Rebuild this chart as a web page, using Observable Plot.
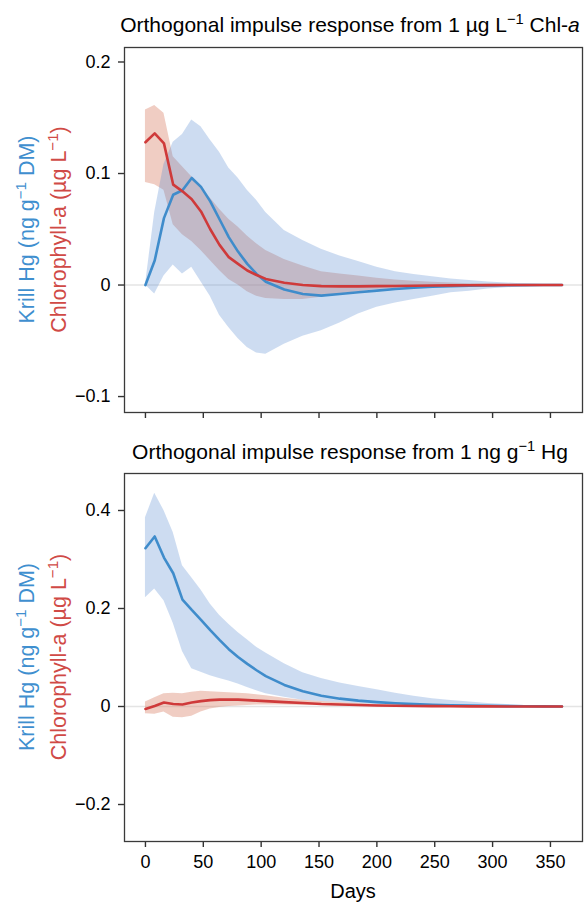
<!DOCTYPE html>
<html>
<head>
<meta charset="utf-8">
<script src="https://cdn.jsdelivr.net/npm/d3@7"></script>
<script src="https://cdn.jsdelivr.net/npm/@observablehq/plot@0.6"></script>
<style>
  body { margin: 0; background: #fff; }
  #chart { width: 587px; font-family: "Liberation Sans", Arial, sans-serif; }
  #chart svg { display: block; }
  #chart svg g[aria-label$="tick"] path { stroke-width: 1.4px; stroke: #333; }
</style>
</head>
<body>
<div id="chart"></div>
<script>
// ---- data ----
const days = [0, 8, 16, 24, 32, 40, 48, 56, 64, 72, 80, 88, 96, 104, 120, 136, 152, 168, 184, 200, 216, 232, 248, 264, 280, 296, 312, 328, 344, 360];

// Panel 1: impulse from 1 µg L-1 Chl-a
const p1KrillMid = [0.000, 0.022, 0.060, 0.081, 0.085, 0.096, 0.088, 0.075, 0.059, 0.043, 0.030, 0.019, 0.010, 0.003, -0.004, -0.008, -0.0095, -0.008, -0.0065, -0.005, -0.0035, -0.0025, -0.0015, -0.001, -0.0006, -0.0003, -0.0002, -0.0001, 0, 0];
const p1KrillLo  = [0.000, -0.008, 0.008, 0.018, 0.010, 0.016, 0.003, -0.010, -0.027, -0.038, -0.048, -0.056, -0.061, -0.062, -0.053, -0.046, -0.041, -0.034, -0.026, -0.020, -0.016, -0.013, -0.010, -0.007, -0.0055, -0.0035, -0.0025, -0.0013, -0.0005, 0];
const p1KrillHi  = [0.000, 0.065, 0.108, 0.128, 0.135, 0.148, 0.142, 0.130, 0.119, 0.105, 0.096, 0.085, 0.076, 0.065, 0.049, 0.040, 0.032, 0.026, 0.021, 0.016, 0.012, 0.0095, 0.0075, 0.0055, 0.004, 0.0027, 0.0018, 0.001, 0.0004, 0];
const p1ChlMid   = [0.128, 0.136, 0.127, 0.090, 0.084, 0.077, 0.066, 0.050, 0.036, 0.025, 0.019, 0.013, 0.009, 0.0055, 0.002, 0.000, -0.001, -0.0012, -0.0012, -0.001, -0.0008, -0.0006, -0.0004, -0.0003, -0.0002, -0.0001, 0, 0, 0, 0];
const p1ChlLo    = [0.092, 0.090, 0.085, 0.054, 0.045, 0.039, 0.031, 0.022, 0.013, 0.005, 0.000, -0.006, -0.010, -0.012, -0.013, -0.013, -0.011, -0.008, -0.006, -0.004, -0.003, -0.002, -0.0015, -0.001, -0.0006, -0.0003, -0.0001, 0, 0, 0];
const p1ChlHi    = [0.157, 0.161, 0.154, 0.115, 0.106, 0.097, 0.088, 0.078, 0.068, 0.059, 0.052, 0.044, 0.037, 0.031, 0.023, 0.017, 0.012, 0.010, 0.008, 0.006, 0.0045, 0.0035, 0.0025, 0.0018, 0.0012, 0.0008, 0.0005, 0.0003, 0.0001, 0];

// Panel 2: impulse from 1 ng g-1 Hg
const p2KrillMid = [0.323, 0.347, 0.304, 0.272, 0.218, 0.197, 0.177, 0.156, 0.136, 0.117, 0.101, 0.087, 0.074, 0.062, 0.044, 0.031, 0.022, 0.016, 0.012, 0.009, 0.0065, 0.0048, 0.0035, 0.0025, 0.0018, 0.0012, 0.0008, 0.0004, 0.0002, 0];
const p2KrillLo  = [0.222, 0.240, 0.216, 0.170, 0.112, 0.077, 0.070, 0.063, 0.057, 0.052, 0.046, 0.039, 0.032, 0.026, 0.019, 0.013, 0.010, 0.008, 0.006, 0.004, 0.003, 0.002, 0.0015, 0.001, 0.0007, 0.0004, 0.0002, 0.0001, 0, 0];
const p2KrillHi  = [0.385, 0.435, 0.400, 0.355, 0.287, 0.263, 0.238, 0.209, 0.186, 0.168, 0.151, 0.136, 0.121, 0.109, 0.087, 0.069, 0.057, 0.048, 0.041, 0.034, 0.027, 0.021, 0.016, 0.012, 0.009, 0.006, 0.004, 0.0022, 0.001, 0];
const p2ChlMid   = [-0.005, 0.001, 0.008, 0.005, 0.004, 0.008, 0.011, 0.013, 0.014, 0.014, 0.014, 0.013, 0.012, 0.011, 0.009, 0.007, 0.005, 0.004, 0.003, 0.002, 0.0015, 0.001, 0.0007, 0.0005, 0.0003, 0.0002, 0.0001, 0, 0, 0];
const p2ChlLo    = [-0.015, -0.016, -0.011, -0.022, -0.023, -0.020, -0.011, -0.005, -0.002, 0.000, 0.001, 0.002, 0.003, 0.003, 0.003, 0.002, 0.002, 0.001, 0.001, 0.0005, 0, 0, 0, 0, 0, 0, 0, 0, 0, 0];
const p2ChlHi    = [0.009, 0.018, 0.026, 0.027, 0.026, 0.029, 0.031, 0.030, 0.029, 0.028, 0.027, 0.026, 0.024, 0.022, 0.017, 0.013, 0.010, 0.008, 0.006, 0.004, 0.003, 0.002, 0.0015, 0.001, 0.0007, 0.0004, 0.0002, 0.0001, 0, 0];

const xTicks = [0, 50, 100, 150, 200, 250, 300, 350];
const p1YTicks = [-0.1, 0, 0.1, 0.2];
const p2YTicks = [-0.2, 0, 0.2, 0.4];

// ---- styling ----
const BLUE = "#3f8ccb", RED = "#cf3a3a";
const BLUE_FILL = "#588ad0", RED_FILL = "#da8269";
const FONT = "Liberation Sans, Arial, sans-serif";

const yFmt = d => (d === 0 ? "0" : String(d).replace("-", "\u2212"));

function table(km, kl, kh, cm, cl, ch) {
  return days.map((d, i) => ({day: d, km: km[i], kl: kl[i], kh: kh[i], cm: cm[i], cl: cl[i], ch: ch[i]}));
}

function panel({data, height, marginTop, marginBottom, yDomain, yTicks, showXLabels}) {
  return Plot.plot({
    width: 587,
    height,
    marginTop,
    marginBottom,
    marginLeft: 124,
    marginRight: 5,
    style: {fontFamily: FONT, fontSize: "18px", color: "#000", background: "#fff"},
    x: {domain: [-18.1, 377.7], ticks: xTicks, tickSize: 6, tickPadding: 8,
        tickFormat: showXLabels ? (d => String(d)) : (() => ""), label: null},
    y: {domain: yDomain, ticks: yTicks, tickSize: 6, tickPadding: 8, tickFormat: yFmt, label: null},
    marks: [
      Plot.ruleY([0], {stroke: "#e4e4e4", strokeWidth: 1.5}),
      Plot.areaY(data, {x: "day", y1: "cl", y2: "ch", fill: RED_FILL, fillOpacity: 0.4}),
      Plot.areaY(data, {x: "day", y1: "kl", y2: "kh", fill: BLUE_FILL, fillOpacity: 0.3}),
      Plot.lineY(data, {x: "day", y: "km", stroke: BLUE, strokeWidth: 2.6}),
      Plot.lineY(data, {x: "day", y: "cm", stroke: RED, strokeWidth: 2.6}),
      Plot.frame({stroke: "#3a3a3a", strokeWidth: 1.3})
    ]
  });
}

function addParts(t, parts) {
  for (const p of parts) {
    const s = t.append("tspan").text(p.t);
    if (p.sup) s.attr("baseline-shift", "super").attr("font-size", "70%");
    if (p.it) s.attr("font-style", "italic");
  }
}

function addTitle(svg, y, parts) {
  const t = d3.select(svg).append("text")
    .attr("x", 350).attr("y", y)
    .attr("text-anchor", "middle")
    .attr("font-family", FONT).attr("font-size", 21).attr("fill", "#000");
  addParts(t, parts);
}

function addYLabels(svg, cy) {
  const sel = d3.select(svg);
  const blue = sel.append("text")
    .attr("transform", `translate(26,${cy}) rotate(-90)`)
    .attr("text-anchor", "middle").attr("dy", "0.35em")
    .attr("font-family", FONT).attr("font-size", 21.5).attr("fill", "#3f8fcf");
  addParts(blue, [{t: "Krill Hg (ng g"}, {t: "\u22121", sup: true}, {t: " DM)"}]);
  const red = sel.append("text")
    .attr("transform", `translate(58,${cy}) rotate(-90)`)
    .attr("text-anchor", "middle").attr("dy", "0.35em")
    .attr("font-family", FONT).attr("font-size", 21.5).attr("fill", "#d04a46");
  addParts(red, [{t: "Chlorophyll-a (\u00b5g L"}, {t: "\u22121", sup: true}, {t: ")"}]);
}

const chart = document.getElementById("chart");

const top1 = panel({
  data: table(p1KrillMid, p1KrillLo, p1KrillHi, p1ChlMid, p1ChlLo, p1ChlHi),
  height: 435, marginTop: 47, marginBottom: 23,
  yDomain: [-0.1143, 0.213], yTicks: p1YTicks, showXLabels: false
});
addTitle(top1, 32, [{t: "Orthogonal impulse response from 1 \u00b5g L"}, {t: "\u22121", sup: true}, {t: " Chl-"}, {t: "a", it: true}]);
addYLabels(top1, 229.5);
chart.appendChild(top1);

const bottom = panel({
  data: table(p2KrillMid, p2KrillLo, p2KrillHi, p2ChlMid, p2ChlLo, p2ChlHi),
  height: 467, marginTop: 38, marginBottom: 61,
  yDomain: [-0.2755, 0.4755], yTicks: p2YTicks, showXLabels: true
});
addTitle(bottom, 24, [{t: "Orthogonal impulse response from 1 ng g"}, {t: "\u22121", sup: true}, {t: " Hg"}]);
addYLabels(bottom, 222);
d3.select(bottom).append("text")
  .attr("x", 353).attr("y", 463).attr("text-anchor", "middle")
  .attr("font-family", FONT).attr("font-size", 20).attr("fill", "#000")
  .text("Days");
chart.appendChild(bottom);
</script>
</body>
</html>
